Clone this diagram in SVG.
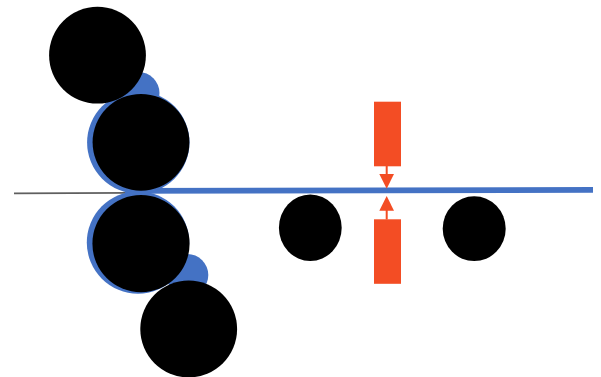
<svg xmlns="http://www.w3.org/2000/svg" width="601" height="377" viewBox="0 0 601 377">
<style>
.roll{fill:#000}
.blue{fill:#4472C4}
.red{fill:#F34D24}
.redline{stroke:#F34D24;stroke-width:2;fill:none}
</style>
<rect width="601" height="377" fill="#fff"/>
<g id="connectors">
<line x1="14" y1="193.4" x2="130" y2="192.8" stroke="#5f5f5f" stroke-width="1.8"/>
<line x1="125" y1="190.9" x2="593" y2="189.9" stroke="#4472C4" stroke-width="5.6"/>
<line class="redline" x1="386.7" y1="166" x2="386.7" y2="175"/>
<polygon class="red" points="379.3,174 394,174 386.7,188.7"/>
<line class="redline" x1="386.7" y1="219.5" x2="386.7" y2="210"/>
<polygon class="red" points="379.3,210.7 394,210.7 386.7,196"/>
</g>
<g id="upper-backup"><circle class="blue" cx="138.5" cy="93" r="21"/></g>
<g id="lower-backup"><circle class="blue" cx="187.3" cy="275" r="21"/></g>
<g id="upper-sleeve"><circle class="blue" cx="138.3" cy="142.5" r="51.2"/></g>
<g id="lower-sleeve"><circle class="blue" cx="138" cy="242.5" r="51.2"/></g>
<g id="top-roll"><circle class="roll" cx="97.5" cy="55.2" r="48.4"/></g>
<g id="upper-roll"><circle class="roll" cx="141" cy="142.3" r="48.4"/></g>
<g id="lower-roll"><circle class="roll" cx="141" cy="243.7" r="48.6"/></g>
<g id="bottom-roll"><circle class="roll" cx="188.7" cy="329" r="48.4"/></g>
<g id="mid-roll-1"><ellipse class="roll" cx="310.3" cy="227.7" rx="31.4" ry="33.3"/></g>
<g id="mid-roll-2"><ellipse class="roll" cx="474.2" cy="228.7" rx="31.5" ry="32.4"/></g>
<g id="upper-block"><rect class="red" x="374" y="101.7" width="27" height="64.6"/></g>
<g id="lower-block"><rect class="red" x="374" y="219.3" width="27" height="64.5"/></g>
</svg>
